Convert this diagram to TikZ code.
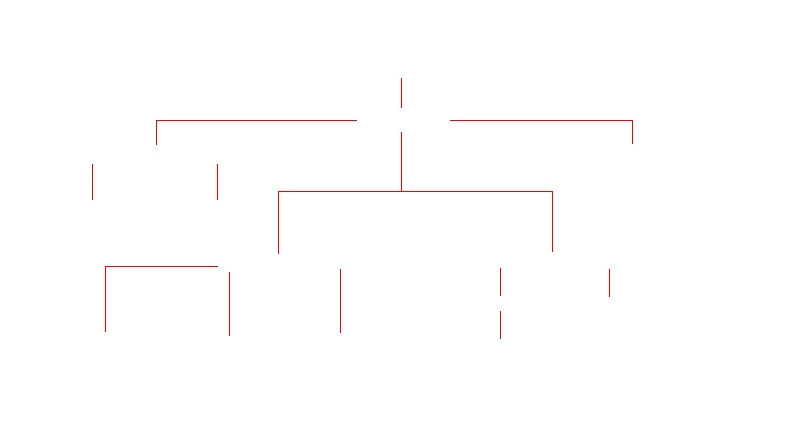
\documentclass[tikz,border=0pt]{standalone}
\begin{document}
\begin{tikzpicture}[x=1pt,y=-1pt, line cap=butt, line join=miter]
			\tikzset{link/.style={red,line width=1pt}}
			\useasboundingbox (0,0) rectangle (800,431);
			% top
			\coordinate (rootT) at (401.5,78); \coordinate (rootB) at (401.5,107.5);
			\coordinate (midT) at (401.5,132); \coordinate (midB) at (401.5,191.5);
			\coordinate (leftA) at (357,120.5); \coordinate (leftB) at (156.5,144.5);
			\coordinate (rightA) at (450,120.5); \coordinate (rightB) at (632.5,143.5);
			\coordinate (subL) at (278.5,253.5); \coordinate (subR) at (552.5,251.5);
			\coordinate (boxA) at (217.5,266.5); \coordinate (boxB) at (105.5,331.5);
			\draw[link] (rootT)--(rootB);
			\draw[link] (leftA)-|(leftB);
			\draw[link] (rightA)-|(rightB);
			\draw[link] (midT)--(midB);
			\draw[link] (subL)|-(midB)-|(subR);
			\draw[link] (boxA)-|(boxB);
			% stubs
			\foreach \x/\a/\b [count=\i] in {92.5/164/199.5,217.5/164/199.5,229.5/272/335.5,340.5/269/333,500.5/268/295.5,500.5/311/338.5,609.5/269/296.5}
			{
				\coordinate (stub\i T) at (\x,\a); \coordinate (stub\i B) at (\x,\b);
				\draw[link] (stub\i T)--(stub\i B);
			}
		\end{tikzpicture}
\end{document}
